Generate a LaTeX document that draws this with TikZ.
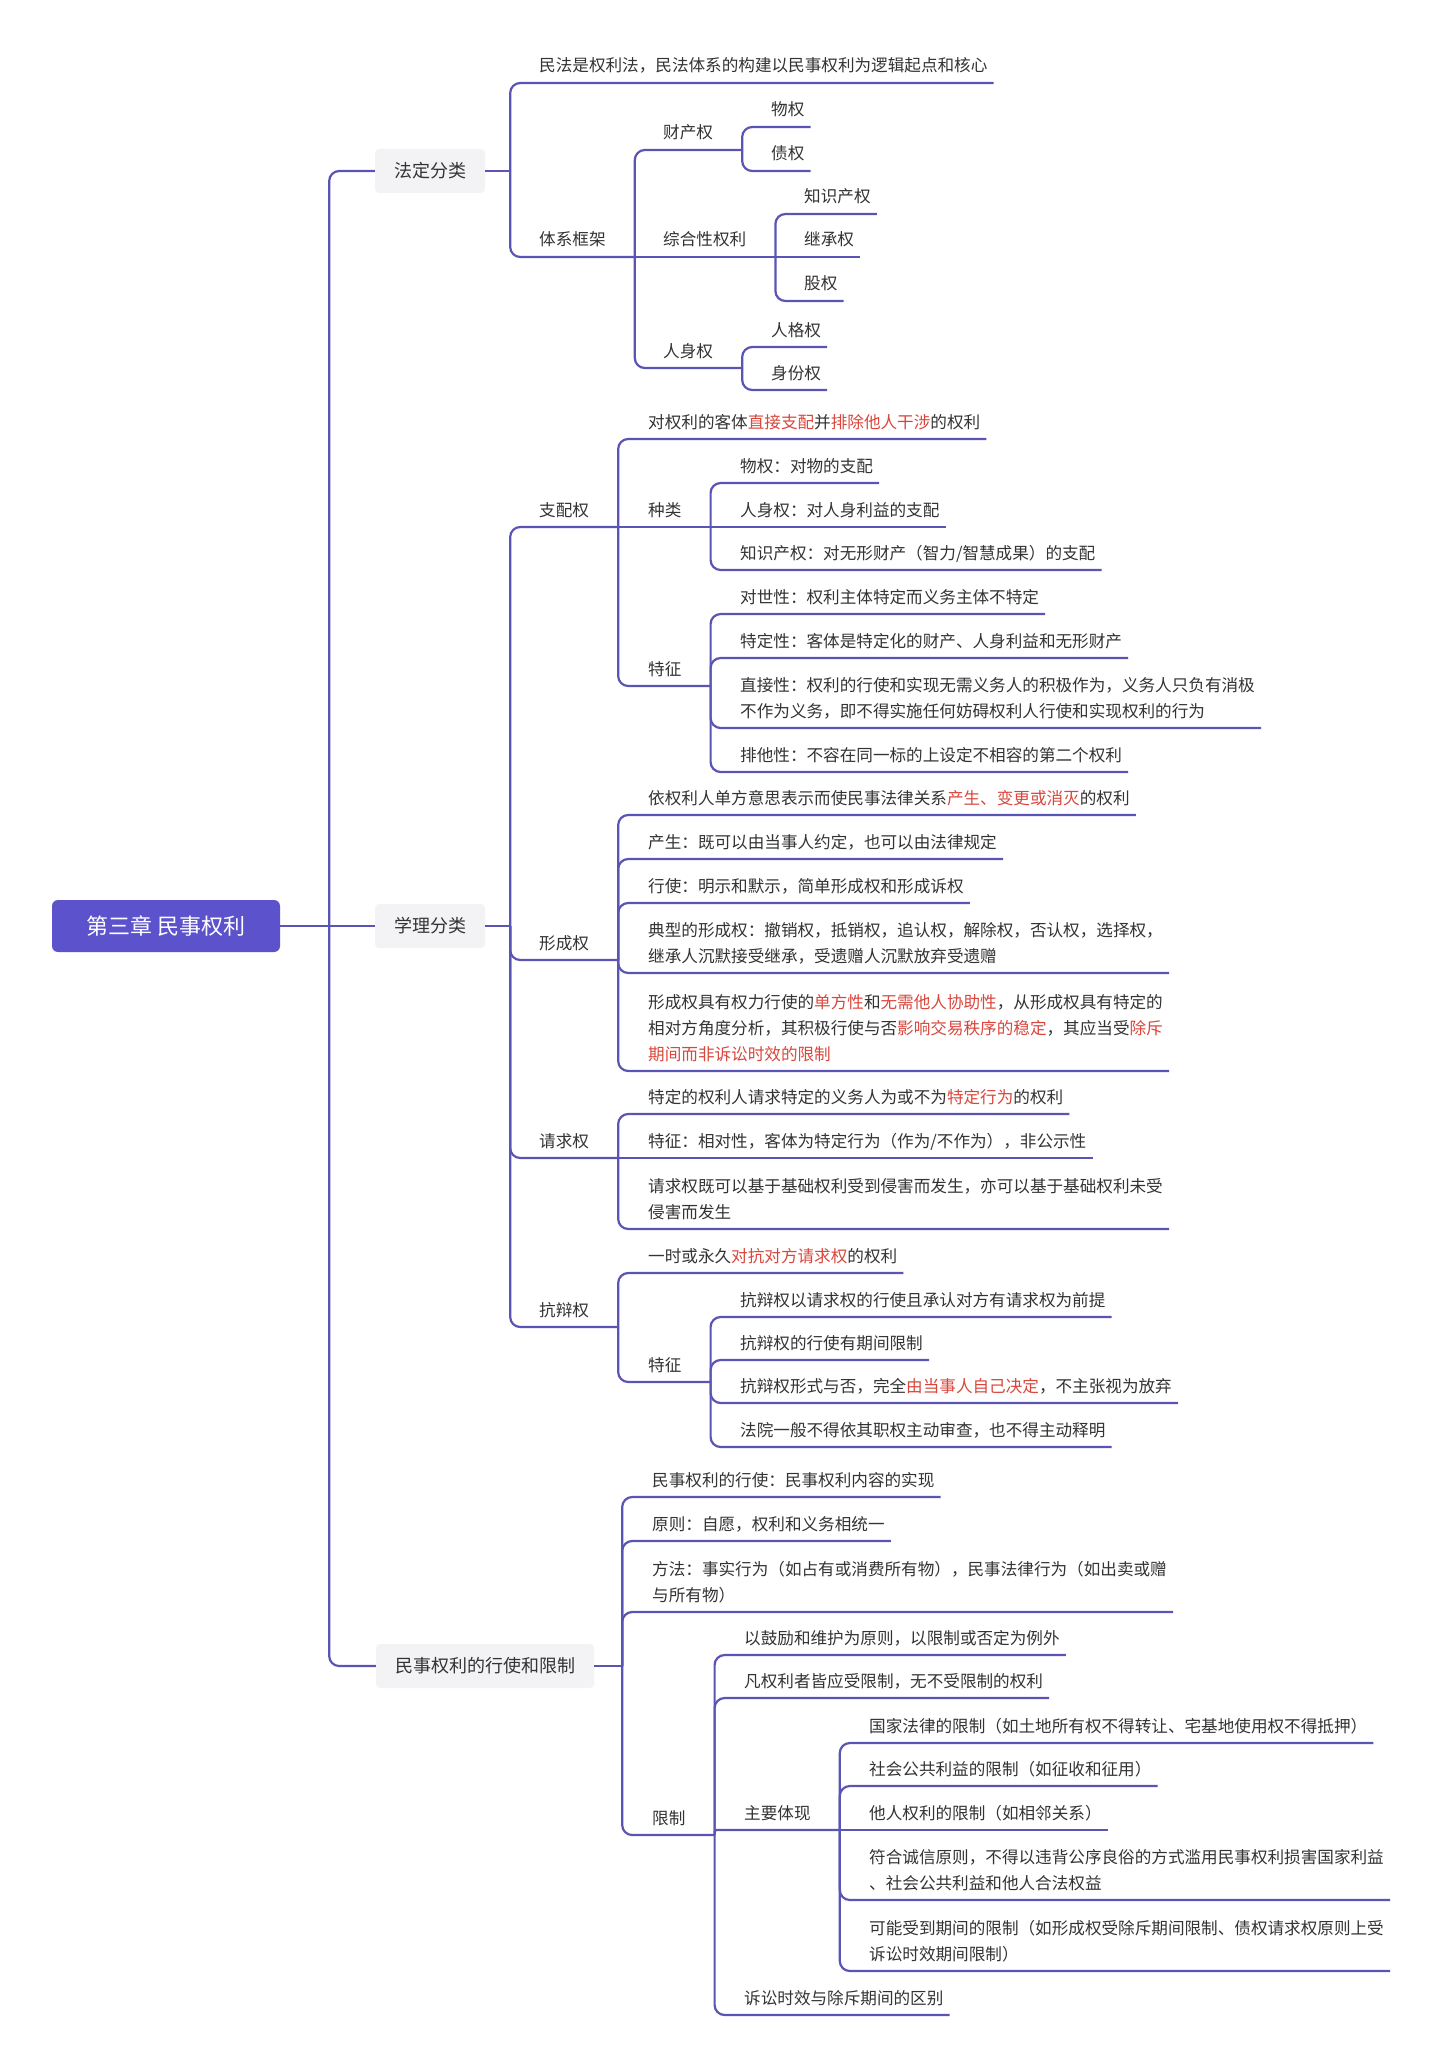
\documentclass[tikz,border=0pt]{standalone}
\usepackage{fontspec}
\setmainfont{Noto Sans CJK SC}
\definecolor{MapBlue}{HTML}{5A54B4}
\definecolor{MapRoot}{HTML}{5B52CC}
\definecolor{MapGray}{HTML}{F3F3F5}
\definecolor{MapInk}{HTML}{333333}
\definecolor{MapRed}{HTML}{D9473C}
\newcommand{\redtxt}[1]{\textcolor{MapRed}{#1}}

\begin{document}
\begin{tikzpicture}[
  x=1pt, y=-1pt,
  link/.style={draw=MapBlue,line width=2.2pt,rounded corners=10pt},
  item/.style={anchor=south west,inner xsep=0pt,inner ysep=3pt,align=left,text=MapInk,font=\fontsize{16.6}{26}\selectfont,execute at end node=\strut},
  topic/.style={fill=MapGray,rounded corners=4pt,minimum height=44pt,inner xsep=19pt,text=MapInk,font=\fontsize{18}{22}\selectfont},
  central/.style={fill=MapRoot,rounded corners=6pt,minimum width=228pt,minimum height=52pt,text=white,font=\fontsize{22}{26}\selectfont}
]
\fill[white] (0,0) rectangle (1440,2068);
\useasboundingbox (0,0) rectangle (1440,2068);

% root and main topics
\node[central] (root) at (166,926) {第三章 民事权利};
\node[topic] (fd) at (430,171) {法定分类};
\node[topic] (xl) at (430,926) {学理分类};
\node[topic] (xs) at (485,1666) {民事权利的行使和限制};
\coordinate (mt) at ([xshift=49pt]root.east);
\draw[link] (root.east) -- (xl.west);
\draw[link] (mt) |- (fd.west);
\draw[link] (mt) |- (xs.west);

% 法定分类
\node[item] (fd1) at (539,83) {民法是权利法，民法体系的构建以民事权利为逻辑起点和核心};
\node[item] (fd2) at (539,257) {体系框架};
\node[item] (cc) at (663,150) {财产权};
\node[item] (cc1) at (771,127) {物权};
\node[item] (cc2) at (771,171) {债权};
\node[item] (zh) at (663,257) {综合性权利};
\node[item] (zh1) at (804,214) {知识产权};
\node[item] (zh2) at (804,257) {继承权};
\node[item] (zh3) at (804,301) {股权};
\node[item] (rs) at (663,368) {人身权};
\node[item] (rs1) at (771,347) {人格权};
\node[item] (rs2) at (771,390) {身份权};
\coordinate (fd-r) at ([xshift=25pt]fd.east);
\coordinate (fd2-r) at ([xshift=29pt]fd2.south east);
\coordinate (cc-r) at ([xshift=29pt]cc.south east);
\coordinate (zh-r) at ([xshift=29pt]zh.south east);
\coordinate (rs-r) at ([xshift=29pt]rs.south east);
\draw[link] (fd.east) -- (fd-r);
\draw[link] (fd-r) |- ([xshift=6pt]fd1.south east);
\draw[link] (fd-r) |- (fd2-r);
\draw[link] (fd2-r) |- (cc-r);
\draw[link] (fd2-r) -- (zh-r);
\draw[link] (fd2-r) |- (rs-r);
\draw[link] (cc-r) |- ([xshift=6pt]cc1.south east);
\draw[link] (cc-r) |- ([xshift=6pt]cc2.south east);
\draw[link] (zh-r) |- ([xshift=6pt]zh1.south east);
\draw[link] (zh-r) -- ([xshift=6pt]zh2.south east);
\draw[link] (zh-r) |- ([xshift=6pt]zh3.south east);
\draw[link] (rs-r) |- ([xshift=6pt]rs1.south east);
\draw[link] (rs-r) |- ([xshift=6pt]rs2.south east);

% 学理分类
\node[item] (zp) at (539,527) {支配权};
\node[item] (zp1) at (648,439) {对权利的客体\redtxt{直接支配}并\redtxt{排除他人干涉}的权利};
\node[item] (zl) at (648,527) {种类};
\node[item] (zl1) at (740,483) {物权：对物的支配};
\node[item] (zl2) at (740,527) {人身权：对人身利益的支配};
\node[item] (zl3) at (740,570) {知识产权：对无形财产（智力/智慧成果）的支配};
\node[item] (tz) at (648,686) {特征};
\node[item] (tz1) at (740,614) {对世性：权利主体特定而义务主体不特定};
\node[item] (tz2) at (740,658) {特定性：客体是特定化的财产、人身利益和无形财产};
\node[item] (tz3) at (740,728) {直接性：权利的行使和实现无需义务人的积极作为，义务人只负有消极\\不作为义务，即不得实施任何妨碍权利人行使和实现权利的行为};
\node[item] (tz4) at (740,772) {排他性：不容在同一标的上设定不相容的第二个权利};

\node[item] (xc) at (539,960) {形成权};
\node[item] (xc1) at (648,815) {依权利人单方意思表示而使民事法律关系\redtxt{产生、变更或消灭}的权利};
\node[item] (xc2) at (648,859) {产生：既可以由当事人约定，也可以由法律规定};
\node[item] (xc3) at (648,903) {行使：明示和默示，简单形成权和形成诉权};
\node[item] (xc4) at (648,973) {典型的形成权：撤销权，抵销权，追认权，解除权，否认权，选择权，\\继承人沉默接受继承，受遗赠人沉默放弃受遗赠};
\node[item] (xc5) at (648,1071) {形成权具有权力行使的\redtxt{单方性}和\redtxt{无需他人协助性}，从形成权具有特定的\\相对方角度分析，其积极行使与否\redtxt{影响交易秩序的稳定}，其应当受\redtxt{除斥}\\\redtxt{期间而非诉讼时效的限制}};

\node[item] (qq) at (539,1158) {请求权};
\node[item] (qq1) at (648,1114) {特定的权利人请求特定的义务人为或不为\redtxt{特定行为}的权利};
\node[item] (qq2) at (648,1158) {特征：相对性，客体为特定行为（作为/不作为），非公示性};
\node[item] (qq3) at (648,1229) {请求权既可以基于基础权利受到侵害而发生，亦可以基于基础权利未受\\侵害而发生};

\node[item] (kb) at (539,1327) {抗辩权};
\node[item] (kb1) at (648,1273) {一时或永久\redtxt{对抗对方请求权}的权利};
\node[item] (kt) at (648,1382) {特征};
\node[item] (kt1) at (740,1317) {抗辩权以请求权的行使且承认对方有请求权为前提};
\node[item] (kt2) at (740,1360) {抗辩权的行使有期间限制};
\node[item] (kt3) at (740,1403) {抗辩权形式与否，完全\redtxt{由当事人自己决定}，不主张视为放弃};
\node[item] (kt4) at (740,1447) {法院一般不得依其职权主动审查，也不得主动释明};

\coordinate (xl-r) at ([xshift=25pt]xl.east);
\coordinate (zp-r) at ([xshift=29pt]zp.south east);
\coordinate (zl-r) at ([xshift=29pt]zl.south east);
\coordinate (tz-r) at ([xshift=29pt]tz.south east);
\coordinate (xc-r) at ([xshift=29pt]xc.south east);
\coordinate (qq-r) at ([xshift=29pt]qq.south east);
\coordinate (kb-r) at ([xshift=29pt]kb.south east);
\coordinate (kt-r) at ([xshift=29pt]kt.south east);
\draw[link] (xl.east) -- (xl-r);
\draw[link] (xl-r) |- (zp-r);
\draw[link] (xl-r) |- (xc-r);
\draw[link] (xl-r) |- (qq-r);
\draw[link] (xl-r) |- (kb-r);
\draw[link] (zp-r) |- ([xshift=6pt]zp1.south east);
\draw[link] (zp-r) -- (zl-r);
\draw[link] (zp-r) |- (tz-r);
\draw[link] (zl-r) |- ([xshift=6pt]zl1.south east);
\draw[link] (zl-r) -- ([xshift=6pt]zl2.south east);
\draw[link] (zl-r) |- ([xshift=6pt]zl3.south east);
\foreach \k in {tz1,tz2,tz3,tz4}
  \draw[link] (tz-r) |- ([xshift=6pt]\k.south east);
\foreach \k in {xc1,xc2,xc3,xc4,xc5}
  \draw[link] (xc-r) |- ([xshift=6pt]\k.south east);
\draw[link] (qq-r) |- ([xshift=6pt]qq1.south east);
\draw[link] (qq-r) -- ([xshift=6pt]qq2.south east);
\draw[link] (qq-r) |- ([xshift=6pt]qq3.south east);
\draw[link] (kb-r) |- ([xshift=6pt]kb1.south east);
\draw[link] (kb-r) |- (kt-r);
\foreach \k in {kt1,kt2,kt3,kt4}
  \draw[link] (kt-r) |- ([xshift=6pt]\k.south east);

% 民事权利的行使和限制
\node[item] (xs1) at (652,1497) {民事权利的行使：民事权利内容的实现};
\node[item] (xs2) at (652,1541) {原则：自愿，权利和义务相统一};
\node[item] (xs3) at (652,1612) {方法：事实行为（如占有或消费所有物），民事法律行为（如出卖或赠\\与所有物）};
\node[item] (xz) at (652,1835) {限制};
\node[item] (xz1) at (744,1655) {以鼓励和维护为原则，以限制或否定为例外};
\node[item] (xz2) at (744,1698) {凡权利者皆应受限制，无不受限制的权利};
\node[item] (zy) at (744,1830) {主要体现};
\node[item] (zy1) at (869,1743) {国家法律的限制（如土地所有权不得转让、宅基地使用权不得抵押）};
\node[item] (zy2) at (869,1786) {社会公共利益的限制（如征收和征用）};
\node[item] (zy3) at (869,1830) {他人权利的限制（如相邻关系）};
\node[item] (zy4) at (869,1900) {符合诚信原则，不得以违背公序良俗的方式滥用民事权利损害国家利益\\、社会公共利益和他人合法权益};
\node[item] (zy5) at (869,1971) {可能受到期间的限制（如形成权受除斥期间限制、债权请求权原则上受\\诉讼时效期间限制）};
\node[item] (xz3) at (744,2015) {诉讼时效与除斥期间的区别};

\coordinate (xs-r) at ([xshift=28pt]xs.east);
\coordinate (xz-r) at ([xshift=29pt]xz.south east);
\coordinate (zy-r) at ([xshift=29pt]zy.south east);
\draw[link] (xs.east) -- (xs-r);
\foreach \k in {xs1,xs2,xs3}
  \draw[link] (xs-r) |- ([xshift=6pt]\k.south east);
\draw[link] (xs-r) |- (xz-r);
\draw[link] (xz-r) |- ([xshift=6pt]xz1.south east);
\draw[link] (xz-r) |- ([xshift=6pt]xz2.south east);
\draw[link,rounded corners=2pt] (xz-r) |- (zy-r);
\draw[link] (xz-r) |- ([xshift=6pt]xz3.south east);
\draw[link] (zy-r) |- ([xshift=6pt]zy1.south east);
\draw[link] (zy-r) |- ([xshift=6pt]zy2.south east);
\draw[link] (zy-r) -- ([xshift=6pt]zy3.south east);
\draw[link] (zy-r) |- ([xshift=6pt]zy4.south east);
\draw[link] (zy-r) |- ([xshift=6pt]zy5.south east);
\end{tikzpicture}
\end{document}
